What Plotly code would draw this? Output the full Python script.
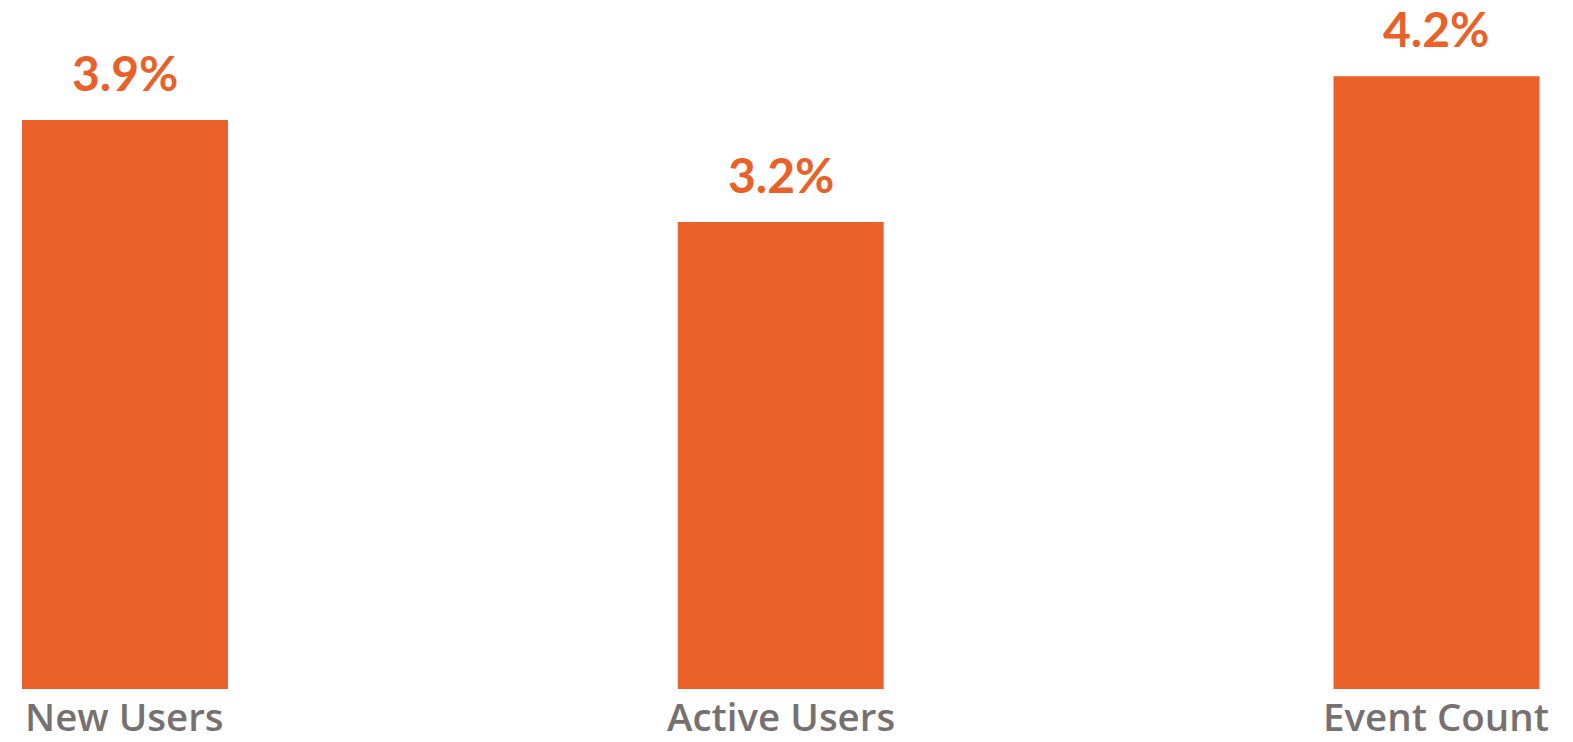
import plotly.graph_objects as go

categories = ["New Users", "Active Users", "Event Count"]
values = [3.9, 3.2, 4.2]
labels = ["3.9%", "3.2%", "4.2%"]

ORANGE = "#E96128"
GRAY = "#767170"

fig = go.Figure()
fig.add_trace(go.Bar(
    x=categories, y=values, marker=dict(color=ORANGE, line=dict(width=0)),
    width=0.314, hoverinfo="skip",
))

for c, v, t in zip(categories, values, labels):
    fig.add_annotation(x=c, y=v, text=t, showarrow=False, yanchor="bottom",
                       yshift=17, font=dict(family="Lato", size=48, color=ORANGE, weight="bold"))

for c in categories:
    fig.add_annotation(x=c, y=0, yref="paper", text=c, showarrow=False, yanchor="top",
                       yshift=0, borderpad=0,
                       font=dict(family="Open Sans", size=38.5, color=GRAY, weight=600))

fig.update_layout(
    width=1573, height=742,
    margin=dict(l=0, r=0, t=0, b=53),
    paper_bgcolor="white", plot_bgcolor="white",
    showlegend=False,
    xaxis=dict(range=[-0.1906, 2.2082], showticklabels=False, showgrid=False, zeroline=False, showline=False),
    yaxis=dict(range=[0, 4.722], visible=False),
)

fig.write_html("out.html", config={"displayModeBar": False},
               post_script="document.body.style.margin='0';document.body.style.overflow='hidden';")
